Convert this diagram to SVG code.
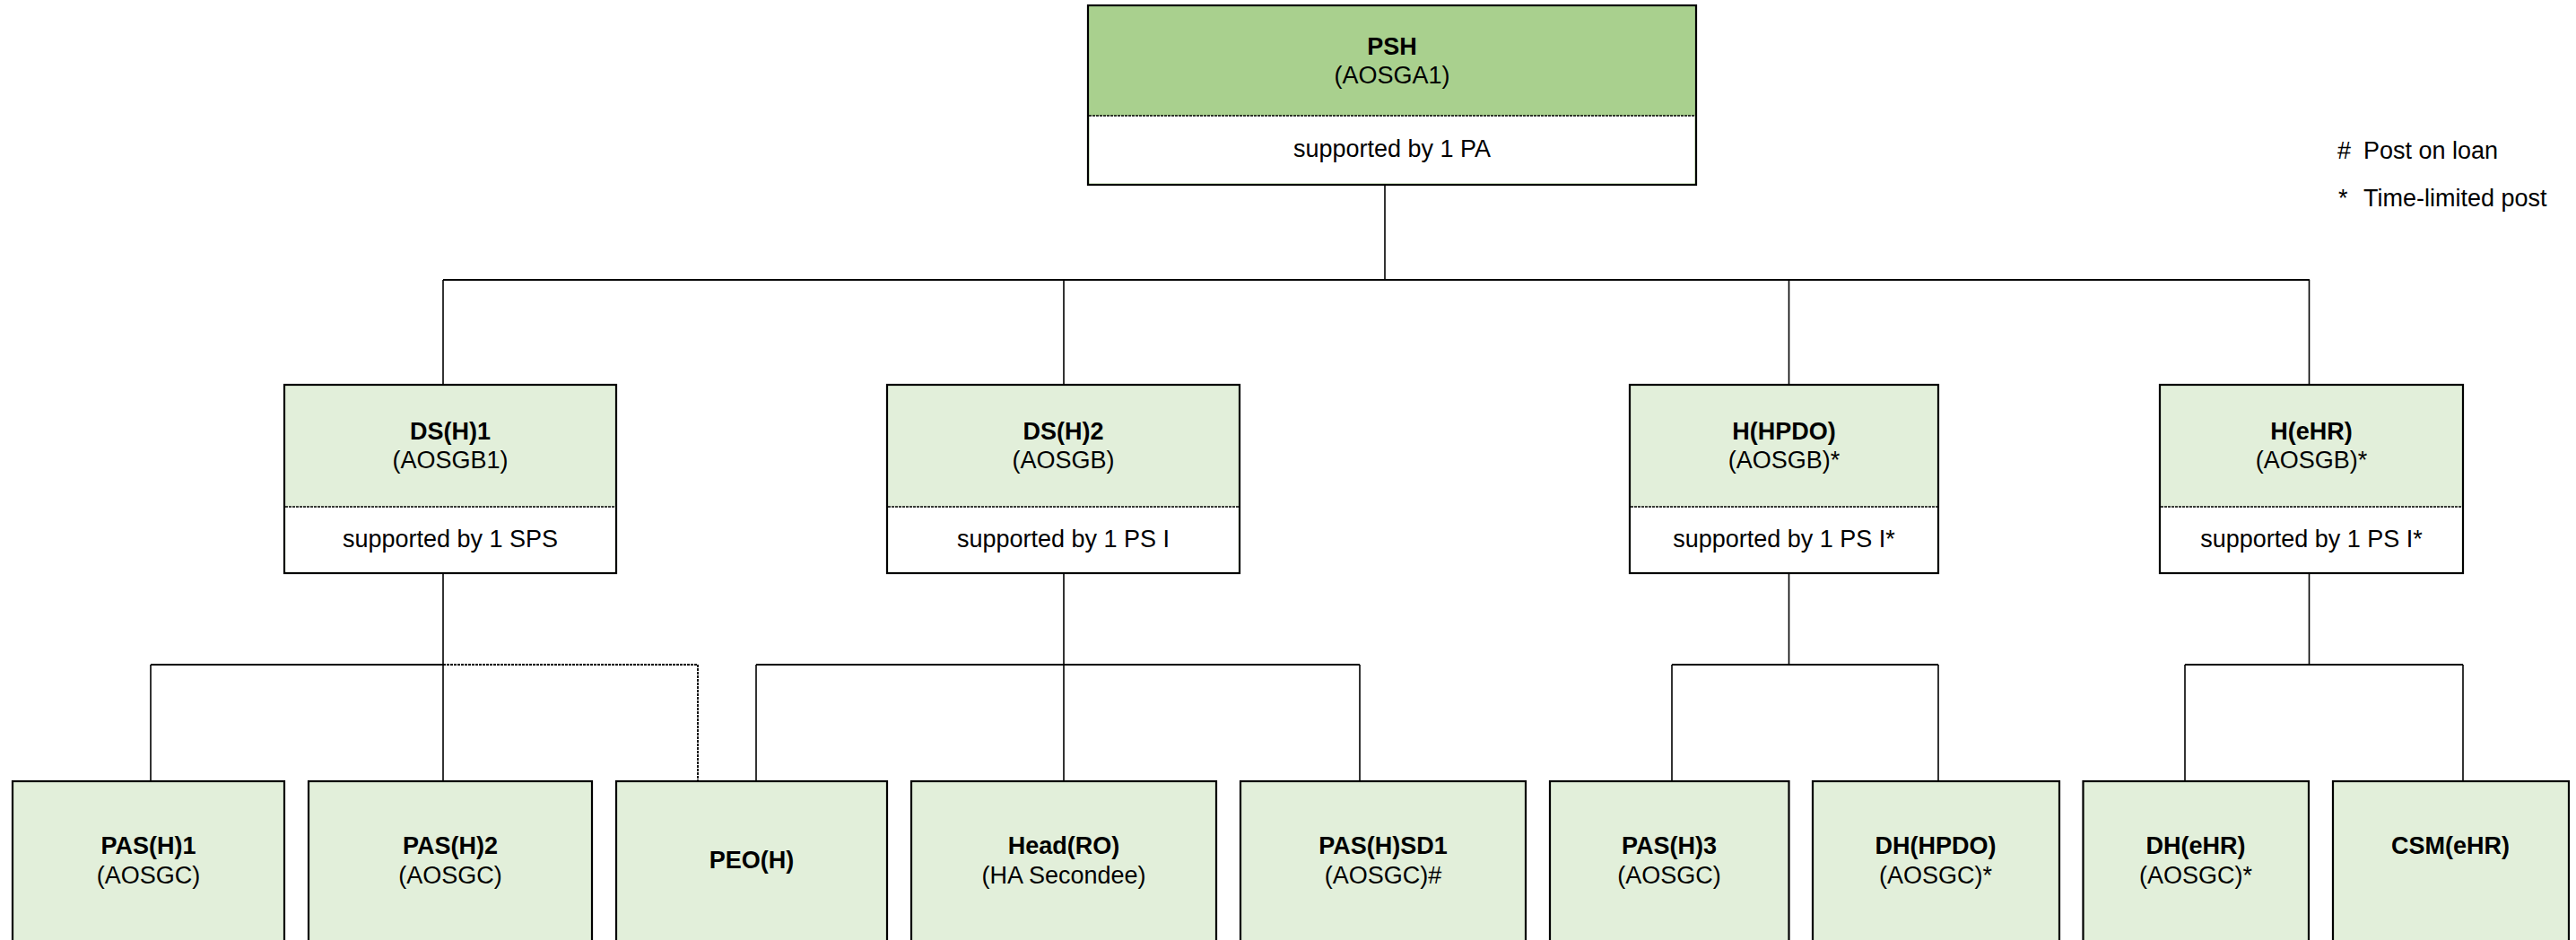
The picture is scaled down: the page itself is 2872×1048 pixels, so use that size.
<svg xmlns="http://www.w3.org/2000/svg" width="2872" height="1048" viewBox="0 0 2872 1048">
<style>
.box{stroke:#000;stroke-width:2.2}
.top{fill:#A9D08E}
.lt{fill:#E2EFDA}
.wh{fill:#fff}
.div{stroke:#000;stroke-width:1.6;stroke-dasharray:3,1}
.b{font-family:"Liberation Sans",Arial,sans-serif;font-size:27px;font-weight:bold;text-anchor:middle;fill:#000}
.r{font-family:"Liberation Sans",Arial,sans-serif;font-size:27px;text-anchor:middle;fill:#000}
.lg{font-family:"Liberation Sans",Arial,sans-serif;font-size:27px;fill:#000}
.c{stroke:#000;stroke-width:1.6;fill:none}
.h{stroke:#000;stroke-width:2.2;fill:none}
.d{stroke:#000;stroke-width:1.8;fill:none;stroke-dasharray:3,1}
</style>
<rect width="2872" height="1048" fill="#fff"/>
<g id="connectors">
<line class="c" x1="1544" y1="206" x2="1544" y2="312"/>
<line class="h" x1="494" y1="312" x2="2575" y2="312"/>
<line class="c" x1="494" y1="312" x2="494" y2="429"/>
<line class="c" x1="1186" y1="312" x2="1186" y2="429"/>
<line class="c" x1="1994.5" y1="312" x2="1994.5" y2="429"/>
<line class="c" x1="2574.5" y1="312" x2="2574.5" y2="429"/>
<line class="c" x1="494" y1="639" x2="494" y2="871"/>
<line class="h" x1="168" y1="741" x2="494" y2="741"/>
<line class="c" x1="168" y1="741" x2="168" y2="871"/>
<path class="d" d="M494 741 H778 V871"/>
<line class="c" x1="1186" y1="639" x2="1186" y2="871"/>
<line class="h" x1="843" y1="741" x2="1516" y2="741"/>
<line class="c" x1="843" y1="741" x2="843" y2="871"/>
<line class="c" x1="1516" y1="741" x2="1516" y2="871"/>
<line class="c" x1="1994.5" y1="639" x2="1994.5" y2="741"/>
<line class="h" x1="1864" y1="741" x2="2161" y2="741"/>
<line class="c" x1="1864" y1="741" x2="1864" y2="871"/>
<line class="c" x1="2161" y1="741" x2="2161" y2="871"/>
<line class="c" x1="2574.5" y1="639" x2="2574.5" y2="741"/>
<line class="h" x1="2436" y1="741" x2="2746" y2="741"/>
<line class="c" x1="2436" y1="741" x2="2436" y2="871"/>
<line class="c" x1="2746" y1="741" x2="2746" y2="871"/>
</g>
<g id="PSH">
<rect class="box top" x="1213" y="6" width="678" height="200"/>
<rect class="wh" x="1214.5" y="129" width="675" height="75.5"/>
<line class="div" x1="1214" y1="129" x2="1890" y2="129"/>
<text class="b" x="1552" y="61">PSH</text>
<text class="r" x="1552" y="93">(AOSGA1)</text>
<text class="r" x="1552" y="175">supported by 1 PA</text>
</g>
<g id="DSH1">
<rect class="box lt" x="317" y="429" width="370" height="210"/>
<rect class="wh" x="318.5" y="565" width="367" height="72.5"/>
<line class="div" x1="318" y1="565" x2="686" y2="565"/>
<text class="b" x="502" y="490">DS(H)1</text>
<text class="r" x="502" y="522">(AOSGB1)</text>
<text class="r" x="502" y="610">supported by 1 SPS</text>
</g>
<g id="DSH2">
<rect class="box lt" x="989" y="429" width="393" height="210"/>
<rect class="wh" x="990.5" y="565" width="390" height="72.5"/>
<line class="div" x1="990" y1="565" x2="1381" y2="565"/>
<text class="b" x="1185.5" y="490">DS(H)2</text>
<text class="r" x="1185.5" y="522">(AOSGB)</text>
<text class="r" x="1185.5" y="610">supported by 1 PS I</text>
</g>
<g id="HHPDO">
<rect class="box lt" x="1817" y="429" width="344" height="210"/>
<rect class="wh" x="1818.5" y="565" width="341" height="72.5"/>
<line class="div" x1="1818" y1="565" x2="2160" y2="565"/>
<text class="b" x="1989" y="490">H(HPDO)</text>
<text class="r" x="1989" y="522">(AOSGB)*</text>
<text class="r" x="1989" y="610">supported by 1 PS I*</text>
</g>
<g id="HeHR">
<rect class="box lt" x="2408" y="429" width="338" height="210"/>
<rect class="wh" x="2409.5" y="565" width="335" height="72.5"/>
<line class="div" x1="2409" y1="565" x2="2745" y2="565"/>
<text class="b" x="2577" y="490">H(eHR)</text>
<text class="r" x="2577" y="522">(AOSGB)*</text>
<text class="r" x="2577" y="610">supported by 1 PS I*</text>
</g>
<g id="PASH1">
<rect class="box lt" x="14" y="871" width="303" height="200"/>
<text class="b" x="165.5" y="952">PAS(H)1</text>
<text class="r" x="165.5" y="985">(AOSGC)</text>
</g>
<g id="PASH2">
<rect class="box lt" x="344" y="871" width="316" height="200"/>
<text class="b" x="502" y="952">PAS(H)2</text>
<text class="r" x="502" y="985">(AOSGC)</text>
</g>
<g id="PEOH">
<rect class="box lt" x="687" y="871" width="302" height="200"/>
<text class="b" x="838" y="968">PEO(H)</text>
</g>
<g id="HeadRO">
<rect class="box lt" x="1016" y="871" width="340" height="200"/>
<text class="b" x="1186" y="952">Head(RO)</text>
<text class="r" x="1186" y="985">(HA Secondee)</text>
</g>
<g id="PASHSD1">
<rect class="box lt" x="1383" y="871" width="318" height="200"/>
<text class="b" x="1542" y="952">PAS(H)SD1</text>
<text class="r" x="1542" y="985">(AOSGC)#</text>
</g>
<g id="PASH3">
<rect class="box lt" x="1728" y="871" width="266.5" height="200"/>
<text class="b" x="1861" y="952">PAS(H)3</text>
<text class="r" x="1861" y="985">(AOSGC)</text>
</g>
<g id="DHHPDO">
<rect class="box lt" x="2021" y="871" width="275" height="200"/>
<text class="b" x="2158" y="952">DH(HPDO)</text>
<text class="r" x="2158" y="985">(AOSGC)*</text>
</g>
<g id="DHeHR">
<rect class="box lt" x="2322.5" y="871" width="251.5" height="200"/>
<text class="b" x="2448" y="952">DH(eHR)</text>
<text class="r" x="2448" y="985">(AOSGC)*</text>
</g>
<g id="CSMeHR">
<rect class="box lt" x="2601" y="871" width="263" height="200"/>
<text class="b" x="2732" y="952">CSM(eHR)</text>
</g>
<g id="legend">
<text class="lg" x="2606" y="177">#</text>
<text class="lg" x="2635" y="177">Post on loan</text>
<text class="lg" x="2607" y="230">*</text>
<text class="lg" x="2635" y="230">Time-limited post</text>
</g>
</svg>
